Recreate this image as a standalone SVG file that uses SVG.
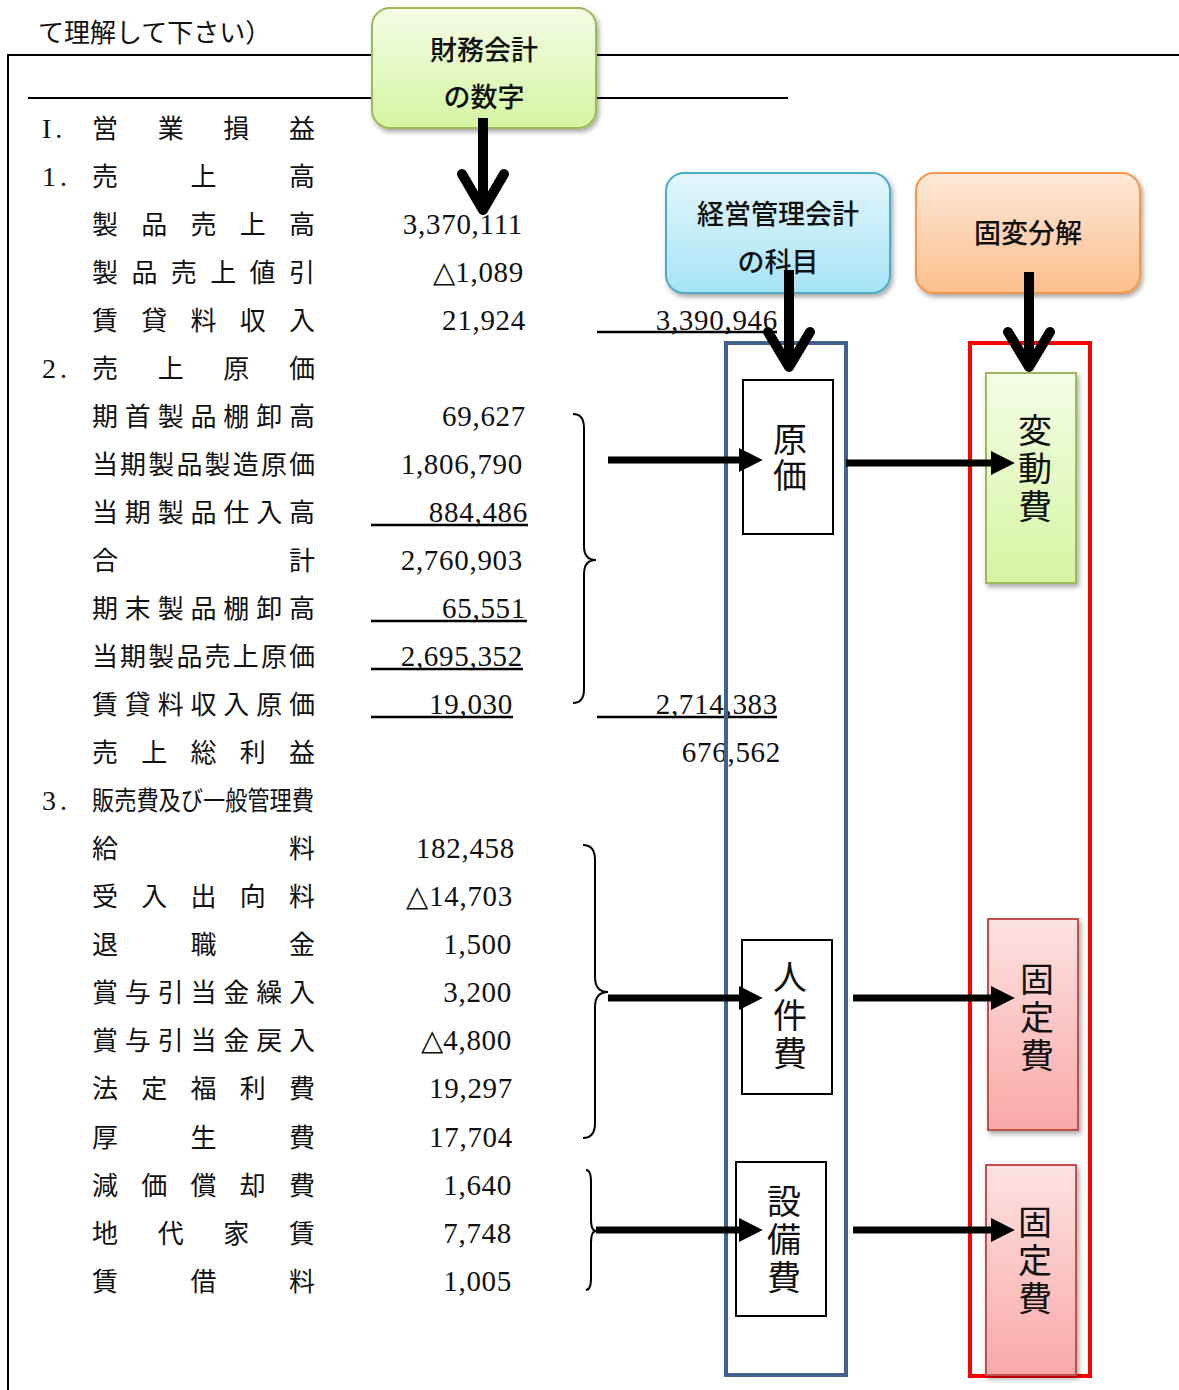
<svg xmlns="http://www.w3.org/2000/svg" width="1179" height="1390" viewBox="0 0 1179 1390">
<defs>
<linearGradient id="gGreen" x1="0" y1="0" x2="0" y2="1"><stop offset="0" stop-color="#f4fde6"/><stop offset="1" stop-color="#d5f5a2"/></linearGradient>
<linearGradient id="gBlue" x1="0" y1="0" x2="0" y2="1"><stop offset="0" stop-color="#e4f7fd"/><stop offset="1" stop-color="#a6e3f6"/></linearGradient>
<linearGradient id="gOrange" x1="0" y1="0" x2="0" y2="1"><stop offset="0" stop-color="#fde8d8"/><stop offset="1" stop-color="#fbbf8c"/></linearGradient>
<linearGradient id="gPink" x1="0" y1="0" x2="0" y2="1"><stop offset="0" stop-color="#fde2e2"/><stop offset="1" stop-color="#f9a9a7"/></linearGradient>
<filter id="sh" x="-20%" y="-20%" width="140%" height="140%"><feDropShadow dx="2" dy="3" stdDeviation="2.5" flood-color="#000" flood-opacity="0.35"/></filter>
<marker id="tri" markerWidth="3.4" markerHeight="3.4" refX="1" refY="1.7" orient="auto" markerUnits="strokeWidth"><path d="M0,0 L3.4,1.7 L0,3.4 z" fill="#000"/></marker>
</defs>
<style>
.lb{font-family:"Liberation Serif","Noto Sans CJK JP",serif;font-size:26px;fill:#111}
.pf{font-family:"Liberation Serif",serif;font-size:28px;fill:#111;letter-spacing:4px}
.nm{font-family:"Liberation Serif",serif;font-size:29px;letter-spacing:0.7px;fill:#111;text-anchor:end}
.bx{font-family:"Noto Sans CJK JP",sans-serif;font-size:27px;font-weight:500;fill:#111;text-anchor:middle}
.vt{font-family:"Noto Sans CJK JP",sans-serif;font-size:34px;fill:#111;text-anchor:middle;writing-mode:vertical-rl;glyph-orientation-vertical:0}
.ln{stroke:#000;stroke-width:2;fill:none}
.ul{stroke:#000;stroke-width:2.5;fill:none}
.ar{stroke:#000;stroke-width:7;fill:none;marker-end:url(#tri)}
.vd{stroke:#000;stroke-width:10;fill:none}
.vh{stroke:#000;stroke-width:10;fill:none;stroke-linecap:round;stroke-linejoin:round}
.br{stroke:#000;stroke-width:2;fill:none}
</style>

<g id="frame">
<text class="lb" x="38" y="42" font-size="25">て理解して下さい）</text>
<polyline class="ln" points="8,1390 8,55 1179,55"/>
<line class="ln" x1="28" y1="98" x2="788" y2="98"/>
</g>

<g id="labels">
<text class="pf" x="42" y="138">I.</text>
<text class="lb" x="92 157.7 223.3 289" y="138">営業損益</text>
<text class="pf" x="42" y="186">1.</text>
<text class="lb" x="92 190.5 289" y="186">売上高</text>
<text class="lb" x="92 141.25 190.5 239.75 289" y="234">製品売上高</text>
<text class="lb" x="92 131.4 170.8 210.2 249.6 289" y="282">製品売上値引</text>
<text class="lb" x="92 141.25 190.5 239.75 289" y="330">賃貸料収入</text>
<text class="pf" x="42" y="378">2.</text>
<text class="lb" x="92 157.7 223.3 289" y="378">売上原価</text>
<text class="lb" x="92 124.8 157.7 190.5 223.3 256.2 289" y="426">期首製品棚卸高</text>
<text class="lb" x="92 120.1 148.3 176.4 204.6 232.7 260.9 289" y="474">当期製品製造原価</text>
<text class="lb" x="92 124.8 157.7 190.5 223.3 256.2 289" y="522">当期製品仕入高</text>
<text class="lb" x="92 289" y="570">合計</text>
<text class="lb" x="92 124.8 157.7 190.5 223.3 256.2 289" y="618">期末製品棚卸高</text>
<text class="lb" x="92 120.1 148.3 176.4 204.6 232.7 260.9 289" y="666">当期製品売上原価</text>
<text class="lb" x="92 124.8 157.7 190.5 223.3 256.2 289" y="714">賃貸料収入原価</text>
<text class="lb" x="92 141.25 190.5 239.75 289" y="762">売上総利益</text>
<text class="pf" x="42" y="810">3.</text>
<text class="lb" x="92" y="810" textLength="222" lengthAdjust="spacingAndGlyphs">販売費及び一般管理費</text>
<text class="lb" x="92 289" y="858">給料</text>
<text class="lb" x="92 141.25 190.5 239.75 289" y="906">受入出向料</text>
<text class="lb" x="92 190.5 289" y="954">退職金</text>
<text class="lb" x="92 124.8 157.7 190.5 223.3 256.2 289" y="1002">賞与引当金繰入</text>
<text class="lb" x="92 124.8 157.7 190.5 223.3 256.2 289" y="1050">賞与引当金戻入</text>
<text class="lb" x="92 141.25 190.5 239.75 289" y="1098">法定福利費</text>
<text class="lb" x="92 190.5 289" y="1147">厚生費</text>
<text class="lb" x="92 141.25 190.5 239.75 289" y="1195">減価償却費</text>
<text class="lb" x="92 157.7 223.3 289" y="1243">地代家賃</text>
<text class="lb" x="92 190.5 289" y="1291">賃借料</text>
</g>

<g id="numbers">
<text class="nm" x="523" y="234">3,370,111</text>
<text class="nm" x="524" y="282">△1,089</text>
<text class="nm" x="526" y="330">21,924</text>
<text class="nm" x="526" y="426">69,627</text>
<text class="nm" x="523" y="474">1,806,790</text>
<text class="nm" x="528" y="522">884,486</text>
<text class="nm" x="523" y="570">2,760,903</text>
<text class="nm" x="526" y="618">65,551</text>
<text class="nm" x="523" y="666">2,695,352</text>
<text class="nm" x="513" y="714">19,030</text>
<text class="nm" x="515" y="858">182,458</text>
<text class="nm" x="513" y="906">△14,703</text>
<text class="nm" x="512" y="954">1,500</text>
<text class="nm" x="512" y="1002">3,200</text>
<text class="nm" x="512" y="1050">△4,800</text>
<text class="nm" x="513" y="1098">19,297</text>
<text class="nm" x="513" y="1147">17,704</text>
<text class="nm" x="512" y="1195">1,640</text>
<text class="nm" x="512" y="1243">7,748</text>
<text class="nm" x="512" y="1291">1,005</text>
<text class="nm" x="778" y="330">3,390,946</text>
<text class="nm" x="778" y="714">2,714,383</text>
<text class="nm" x="781" y="762">676,562</text>
<line class="ul" x1="371" y1="525" x2="528" y2="525"/>
<line class="ul" x1="371" y1="621" x2="527" y2="621"/>
<line class="ul" x1="371" y1="669" x2="523" y2="669"/>
<line class="ul" x1="371" y1="717" x2="513" y2="717"/>
<line class="ul" x1="597" y1="332" x2="777" y2="332"/>
<line class="ul" x1="597" y1="717" x2="777" y2="717"/>
</g>

<g id="columns">
<rect x="726" y="343" width="120" height="1032" fill="none" stroke="#41628f" stroke-width="4"/>
<rect x="970" y="343" width="120" height="1033" fill="none" stroke="#ff0000" stroke-width="4"/>
</g>

<g id="node-zaimu">
<rect x="372" y="8" width="224" height="120" rx="18" fill="url(#gGreen)" stroke="#9bbb59" stroke-width="2" filter="url(#sh)"/>
<text class="bx" x="484" y="60">財務会計</text>
<text class="bx" x="484" y="107">の数字</text>
</g>
<g id="node-keiei">
<rect x="666" y="173" width="224" height="120" rx="18" fill="url(#gBlue)" stroke="#4bacc6" stroke-width="2" filter="url(#sh)"/>
<text class="bx" x="778" y="224">経営管理会計</text>
<text class="bx" x="778" y="272">の科目</text>
</g>
<g id="node-kohen">
<rect x="916" y="173" width="224" height="120" rx="18" fill="url(#gOrange)" stroke="#f79646" stroke-width="2" filter="url(#sh)"/>
<text class="bx" x="1028" y="243">固変分解</text>
</g>

<g id="node-genka">
<rect x="743" y="380" width="90" height="154" fill="#fff" stroke="#000" stroke-width="2"/>
<text class="vt" x="790" y="458" letter-spacing="2">原価</text>
</g>
<g id="node-jinken">
<rect x="742" y="940" width="90" height="154" fill="#fff" stroke="#000" stroke-width="2"/>
<text class="vt" x="790" y="1017" letter-spacing="4">人件費</text>
</g>
<g id="node-setsubi">
<rect x="736" y="1162" width="90" height="154" fill="#fff" stroke="#000" stroke-width="2"/>
<text class="vt" x="784" y="1241" letter-spacing="4">設備費</text>
</g>
<g id="node-hendo">
<rect x="986" y="373" width="90" height="210" fill="url(#gGreen)" stroke="#9bbb59" stroke-width="2" filter="url(#sh)"/>
<text class="vt" x="1035" y="470" letter-spacing="4">変動費</text>
</g>
<g id="node-kotei1">
<rect x="988" y="919" width="90" height="211" fill="url(#gPink)" stroke="#c0504d" stroke-width="2" filter="url(#sh)"/>
<text class="vt" x="1037" y="1019" letter-spacing="4">固定費</text>
</g>
<g id="node-kotei2">
<rect x="986" y="1165" width="90" height="210" fill="url(#gPink)" stroke="#c0504d" stroke-width="2" filter="url(#sh)"/>
<text class="vt" x="1035" y="1262" letter-spacing="4">固定費</text>
</g>

<g id="connectors">
<line class="vd" x1="483" y1="118" x2="483" y2="208"/>
<polyline class="vh" points="462,174 483,210 504,174"/>
<line class="vd" x1="789" y1="270" x2="789" y2="365"/>
<polyline class="vh" points="768,332 789,367 810,332"/>
<line class="vd" x1="1029" y1="272" x2="1029" y2="365"/>
<polyline class="vh" points="1008,332 1029,367 1050,332"/>
<path class="br" d="M573,414 Q584,414 584,428 L584,546 Q584,560 596,560 Q584,560 584,574 L584,689 Q584,703 573,703"/>
<path class="br" d="M583,845 Q595,845 595,860 L595,977 Q595,992 608,992 Q595,992 595,1007 L595,1123 Q595,1138 583,1138"/>
<path class="br" d="M586,1170 Q591,1170 591,1182 L591,1219 Q591,1231 596,1231 Q591,1231 591,1243 L591,1278 Q591,1290 586,1290"/>
<line class="ar" x1="608" y1="460" x2="746" y2="460"/>
<line class="ar" x1="846" y1="463" x2="998" y2="463"/>
<line class="ar" x1="608" y1="998" x2="746" y2="998"/>
<line class="ar" x1="853" y1="998" x2="998" y2="998"/>
<line class="ar" x1="596" y1="1230" x2="746" y2="1230"/>
<line class="ar" x1="853" y1="1230" x2="998" y2="1230"/>
</g>
</svg>
